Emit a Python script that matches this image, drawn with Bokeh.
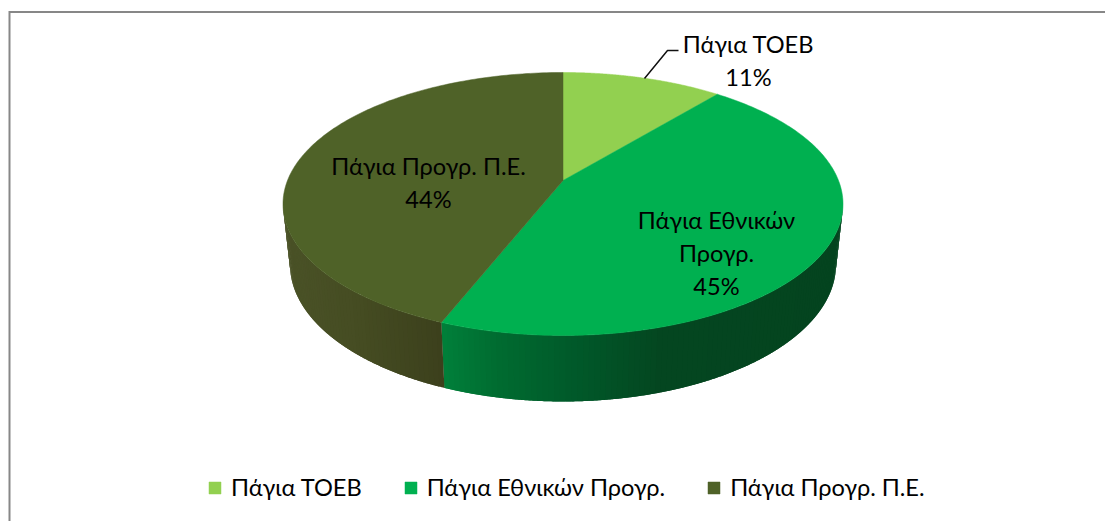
import numpy as np
from bokeh.core.properties import value
from bokeh.embed import file_html
from bokeh.models import Legend, LegendItem, Range1d
from bokeh.plotting import figure
from bokeh.resources import INLINE

categories = ["Πάγια ΤΟΕΒ", "Πάγια Εθνικών Προγρ.", "Πάγια Προγρ. Π.Ε."]
shares = [11, 45, 44]
label_lines = [["Πάγια ΤΟΕΒ"], ["Πάγια Εθνικών", "Προγρ."], ["Πάγια Προγρ. Π.Ε."]]
top_colors = ["#92d050", "#00b050", "#4f6228"]

FONT = "Lato"
FS = "23.6px"
W, H = 1105, 521

# Projection of the tilted pie (page pixels)
APEX_X, APEX_Y = 562.5, 180.0
A, B, PERSP = 275.5, 127.3, 0.1786
BASE_SX, BASE_SY, BASE_DY = 0.975, 1.042, 59.5


def project(theta, base=False):
    s, c = np.sin(theta), np.cos(theta)
    d = 1 + PERSP * c
    u, v = A * s / d, B * c / d
    if base:
        return APEX_X + BASE_SX * u, APEX_Y - BASE_SY * v + BASE_DY
    return APEX_X + u, APEX_Y - v


def lerp_color(stops, x):
    xs = [t[0] for t in stops]
    ch = [np.interp(x, xs, [t[1][i] for t in stops]) for i in range(3)]
    return "#%02x%02x%02x" % tuple(int(round(c)) for c in ch)


side_stops = {
    1: [(442, (0, 128, 58)), (500, (0, 107, 48)), (570, (0, 90, 42)), (660, (4, 70, 32)), (840, (4, 68, 31))],
    2: [(285, (74, 82, 39)), (360, (69, 76, 34)), (442, (60, 64, 28))],
}

p = figure(width=W, height=H, x_range=Range1d(0, W), y_range=Range1d(H, 0),
           output_backend="svg", toolbar_location=None, min_border=0,
           outline_line_color=None, background_fill_color="white", border_fill_color="white")
p.axis.visible = False
p.grid.visible = False

edges = np.cumsum([0] + shares) / sum(shares) * 2 * np.pi
vis_a, vis_b = np.radians(100.3), np.radians(259.7)

# Side walls: each strip runs on under the next one, so no seams show
for i in (1, 2):
    a0, a1 = max(edges[i], vis_a), min(edges[i + 1], vis_b)
    n = max(int(np.degrees(a1 - a0) / 1.0), 1)
    grid = np.linspace(a0, a1, n + 1)
    sx, sy, sc = [], [], []
    for k in range(n):
        arc = np.linspace(grid[k], a1 if k == n - 1 else grid[min(k + 2, n)], 8)
        xt, yt = project(arc)
        xb, yb = project(arc[::-1], True)
        sx.append(list(np.r_[xt, xb]))
        sy.append(list(np.r_[yt, yb]))
        mid = 0.5 * (grid[k] + grid[k + 1])
        mx = 0.5 * (project(mid)[0] + project(mid, True)[0])
        sc.append(lerp_color(side_stops[i], mx))
    p.patches(sx, sy, fill_color=sc, line_color=None)

# Top faces
faces = []
for i, c in enumerate(top_colors):
    t = np.linspace(edges[i], edges[i + 1], 160)
    x, y = project(t)
    faces.append(p.patch(np.r_[APEX_X, x], np.r_[APEX_Y, y], fill_color=c, line_color=c, line_width=0.5))

# Leader line of the first label
p.line([644, 667, 678], [78, 50, 50], line_color="#111111", line_width=1.5)

# Data labels
label_x = [748, 716, 428]
label_y = [43, 219, 165]
line_gap = 33
tx, ty, tt = [], [], []
for lx, ly, lines, sh in zip(label_x, label_y, label_lines, shares):
    for k, s in enumerate(lines + [f"{sh}%"]):
        tx.append(lx)
        ty.append(ly + k * line_gap)
        tt.append(s)
p.text(tx, ty, text=tt, text_font=value(FONT), text_font_size=value(FS), text_color="#000000",
       text_align="center", text_baseline="middle")

# Chart frame: top and left edges are what the picture shows
p.line([9, 9, W], [H, 11.5, 11.5], line_color="#878787", line_width=2, line_join="miter")

legend = Legend(items=[LegendItem(label=c, renderers=[r]) for c, r in zip(categories, faces)],
                orientation="horizontal", location=(207, 20), padding=0, margin=0, spacing=41,
                glyph_width=15, glyph_height=15, label_standoff=9, label_height=15,
                label_text_font=FONT, label_text_font_size=FS, label_text_color="#000000",
                border_line_color=None, background_fill_alpha=0)
p.add_layout(legend, "center")

open("out.html", "w").write(file_html(p, INLINE))
